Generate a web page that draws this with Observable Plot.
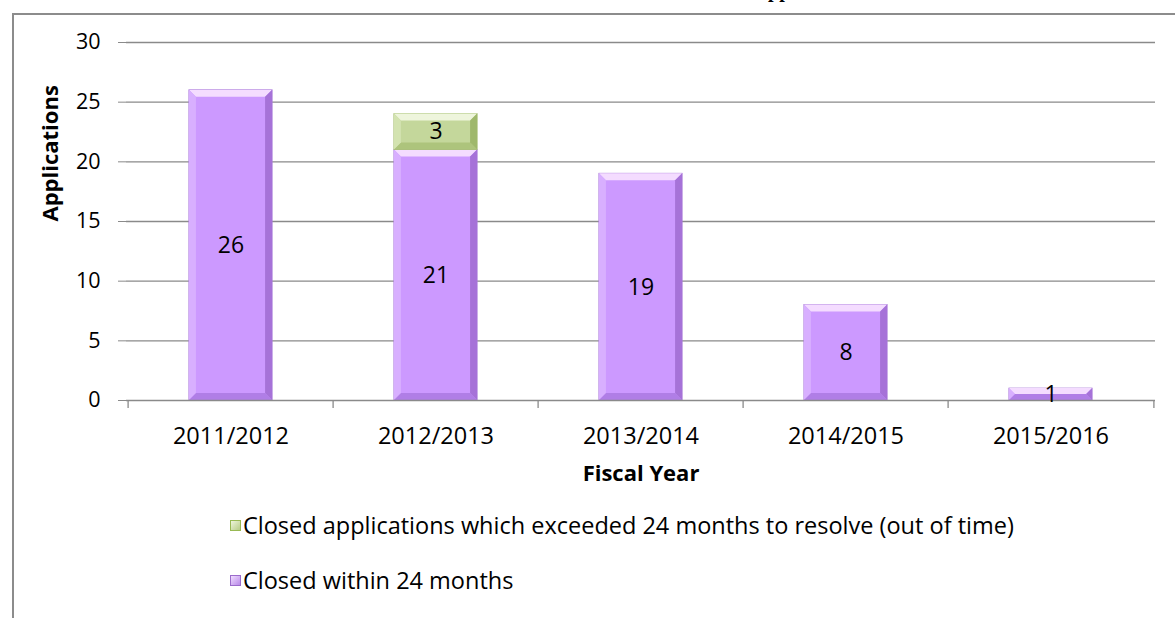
<!DOCTYPE html>
<html>
<head>
<meta charset="utf-8">
<script src="https://cdn.jsdelivr.net/npm/d3@7"></script>
<script src="https://cdn.jsdelivr.net/npm/@observablehq/plot@0.6"></script>
<style>
  html, body { margin: 0; padding: 0; background: #fff; }
  #wrap { position: relative; width: 1175px; height: 618px; overflow: hidden; font-family: "Open Sans", sans-serif; }
  #frame { position: absolute; left: 12px; top: 13px; width: 1200px; height: 700px; border-top: 2px solid #8c8c8c; border-left: 2px solid #8c8c8c; box-sizing: border-box; }
  #title { position: absolute; left: 0; width: 1300px; text-align: left; top: -21px; padding-left: 692px; font-family: "Liberation Serif", serif; font-weight: bold; font-size: 20px; white-space: nowrap; }
  #chart { position: absolute; left: 0; top: 0; }
  .leg { position: absolute; left: 230px; font-size: 23.5px; color: #000; display: flex; align-items: center; white-space: nowrap; line-height: 30px; }
  .sw { width: 11px; height: 11px; margin-right: 2px; box-sizing: border-box; }
</style>
</head>
<body>
<div id="wrap">
  <div id="frame"></div>
  <div id="title">Closed Applications</div>
  <div id="chart"></div>
  <div class="leg" style="top:510px"><div class="sw" style="background:linear-gradient(135deg,#eef5dc,#b7cc87);border:1px solid #98b954"></div><span id="leg1"></span></div>
  <div class="leg" style="top:565px"><div class="sw" style="background:linear-gradient(135deg,#f0dcff,#b98ae8);border:1px solid #9b6bcb"></div><span id="leg2"></span></div>
</div>
<script>
const years = ["2011/2012", "2012/2013", "2013/2014", "2014/2015", "2015/2016"];
const withinValues = [26, 21, 19, 8, 1];
const exceededValues = [0, 3, 0, 0, 0];
const seriesNames = ["Closed within 24 months", "Closed applications which exceeded 24 months to resolve (out of time)"];
const yTicks = [0, 5, 10, 15, 20, 25, 30];
const colors = ["#cc99ff", "#c4d79b"];
const strokes = ["#a678d6", "#9fba68"];
const bevel = {
  "#cc99ff": {top: "#f4dcff", left: "#d8afff", right: "#a672d8", bottom: "#b07ee6"},
  "#c4d79b": {top: "#eef5dc", left: "#d3e3b0", right: "#9fb86c", bottom: "#adc47c"}
};

document.getElementById("leg1").textContent = seriesNames[1];
document.getElementById("leg2").textContent = seriesNames[0];

const rows = [];
years.forEach((yr, i) => rows.push({year: yr, series: seriesNames[0], value: withinValues[i]}));
years.forEach((yr, i) => { if (exceededValues[i] > 0) rows.push({year: yr, series: seriesNames[1], value: exceededValues[i]}); });

const W = 1175, ML = 126, MR = 20, MT = 42, MB = 100, H = 500;
const band = (W - ML - MR) / years.length;
const barW = 84;
const inset = (band - barW) / 2;
const grid = "#8a8a8a";
const FONT = "'Open Sans', sans-serif";

const chart = Plot.plot({
  width: W, height: H,
  marginLeft: ML, marginRight: MR, marginTop: MT, marginBottom: MB,
  style: {fontFamily: FONT, fontSize: "21px", color: "#000", background: "transparent", overflow: "visible"},
  x: {type: "band", domain: years, padding: 0},
  y: {domain: [0, 30]},
  color: {domain: seriesNames, range: colors},
  marks: [
    Plot.ruleY(yTicks.filter(t => t > 0), {y: d => d, stroke: grid, strokeWidth: 1.3}),
    Plot.axisY({ticks: yTicks, tickSize: 8, tickPadding: 18, stroke: grid, strokeOpacity: 1, label: null, fontSize: 21.5}),
    Plot.ruleX([0], {frameAnchor: "left", y1: 30, y2: 0, insetBottom: -8, stroke: grid, strokeWidth: 1.3}),
    Plot.barY(rows, Plot.stackY({x: "year", y: "value", fill: "series", stroke: d => d.series === seriesNames[0] ? strokes[0] : strokes[1], strokeWidth: 0.8, insetLeft: inset, insetRight: inset, className: "bars"})),
    Plot.ruleY([0], {stroke: grid, strokeWidth: 1.5}),
    Plot.ruleX(years, {x: d => d, y1: 0, y2: 0, insetBottom: -8, dx: -band / 2, stroke: grid, strokeWidth: 1.3}),
    Plot.ruleX(years.slice(-1), {x: d => d, y1: 0, y2: 0, insetBottom: -8, dx: band / 2, stroke: grid, strokeWidth: 1.3}),
    Plot.axisX({tickSize: 0, tickPadding: 27, label: null, fontSize: 23.5}),
    Plot.text(rows, Plot.stackY({x: "year", y: "value", z: "series", text: d => String(d.value), fontSize: 23, fill: "#000", className: "vals"})),
    Plot.text(["Fiscal Year"], {frameAnchor: "bottom", dy: 80, fontWeight: "bold", fontSize: 22, fill: "#000"}),
    Plot.text(["Applications"], {frameAnchor: "left", rotate: -90, dx: -76, fontWeight: "bold", fontSize: 22, fill: "#000"})
  ]
});

// bevel decoration drawn over the bars rendered by Plot, using their computed geometry
const NS = "http://www.w3.org/2000/svg";
chart.querySelectorAll("g.bars rect").forEach(r => {
  const x = +r.getAttribute("x"), y = +r.getAttribute("y");
  const w = +r.getAttribute("width"), h = +r.getAttribute("height");
  const fill = (r.getAttribute("fill") || "").toLowerCase();
  const c = bevel[fill]; if (!c) return;
  const b = Math.min(7, h / 2, w / 2);
  const g = document.createElementNS(NS, "g");
  const poly = (pts, col) => { const p = document.createElementNS(NS, "polygon"); p.setAttribute("points", pts.map(q => q.join(",")).join(" ")); p.setAttribute("fill", col); g.appendChild(p); };
  poly([[x, y], [x + w, y], [x + w - b, y + b], [x + b, y + b]], c.top);
  poly([[x, y + h], [x + w, y + h], [x + w - b, y + h - b], [x + b, y + h - b]], c.bottom);
  poly([[x, y], [x + b, y + b], [x + b, y + h - b], [x, y + h]], c.left);
  poly([[x + w, y], [x + w - b, y + b], [x + w - b, y + h - b], [x + w, y + h]], c.right);
  r.parentNode.insertBefore(g, r.nextSibling);
});
document.getElementById("chart").appendChild(chart);
</script>
</body>
</html>
